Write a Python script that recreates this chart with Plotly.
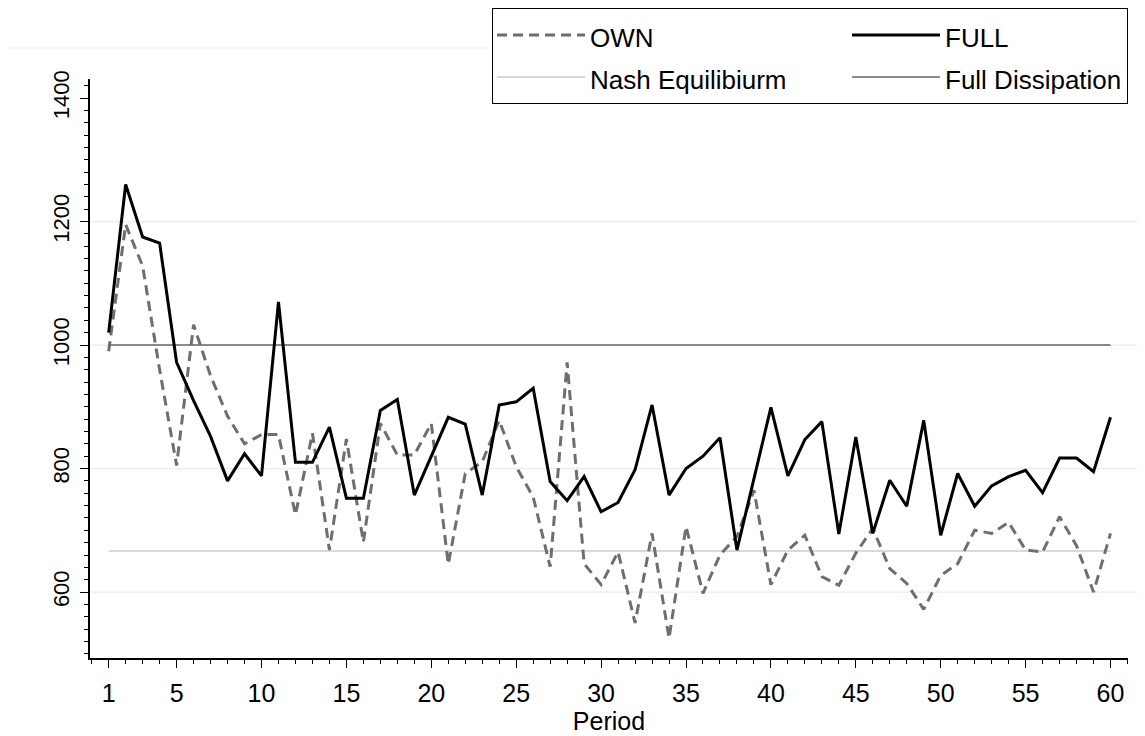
import plotly.graph_objects as go

periods = list(range(1, 61))

own = [990, 1195, 1128, 960, 805, 1033, 950, 885, 840, 855,
       855, 725, 857, 668, 848, 681, 873, 822, 822, 873,
       645, 792, 811, 878, 803, 754, 641, 972, 646, 612,
       665, 550, 695, 525, 706, 598, 660, 690, 765, 612,
       668, 692, 625, 611, 663, 703, 638, 614, 572, 627,
       646, 700, 695, 713, 668, 665, 722, 675, 600, 695]

full = [1020, 1260, 1175, 1165, 972, 910, 852, 780, 824, 788,
        1070, 810, 810, 867, 752, 752, 894, 912, 757, 820,
        883, 872, 757, 903, 908, 930, 779, 748, 787, 730,
        745, 798, 903, 757, 800, 820, 850, 668, 784, 899,
        788, 847, 876, 694, 851, 695, 781, 739, 878, 692,
        792, 739, 772, 787, 797, 761, 817, 817, 795, 883]

nash_value = 2000 / 3
full_dissipation_value = 1000

series_names = ["OWN", "FULL", "Nash Equilibiurm", "Full Dissipation"]
x_tick_vals = [1, 5, 10, 15, 20, 25, 30, 35, 40, 45, 50, 55, 60]
y_tick_vals = [600, 800, 1000, 1200, 1400]
grid_vals = [600, 800, 1000, 1200]

FONT = "Liberation Sans, Arial, sans-serif"
FS = 25
YFS = 22
LEG_TXT = 26
LEG_ROW = 30
ITEMW = 88

# the page adds an 8px body margin, so the figure is sized to fit the window
W, H = 1137, 728
ML, MR, MT, MB = 82, 17, 71, 78
PH = H - MT - MB
PW = W - ML - MR


def leg(name):
    return '<span style="font-size:%dpx">%s</span>' % (LEG_TXT, name)


fig = go.Figure()

# reference lines first (drawn beneath the data lines)
fig.add_trace(go.Scatter(
    x=[periods[0], periods[-1]], y=[nash_value, nash_value], mode="lines",
    name=leg(series_names[2]), legendgroup="col1", legendrank=2,
    line=dict(color="#cccccc", width=1.5),
))
fig.add_trace(go.Scatter(
    x=[periods[0], periods[-1]], y=[full_dissipation_value, full_dissipation_value],
    mode="lines", name=leg(series_names[3]), legendgroup="col2", legendrank=4,
    line=dict(color="#666666", width=1.5),
))
fig.add_trace(go.Scatter(
    x=periods, y=own, mode="lines", name=leg(series_names[0]),
    legendgroup="col1", legendrank=1,
    line=dict(color="#6e6e6e", width=3, dash="10px,6px"),
    legendwidth=350 - (ITEMW + 10),
))
fig.add_trace(go.Scatter(
    x=periods, y=full, mode="lines", name=leg(series_names[1]),
    legendgroup="col2", legendrank=3,
    line=dict(color="black", width=3),
))

shapes = []
for g in grid_vals:
    shapes.append(dict(type="line", xref="paper", yref="y", x0=0, x1=1.012,
                       y0=g, y1=g, line=dict(color="#e6edf1", width=1.2),
                       layer="below"))
shapes.append(dict(type="line", xref="paper", yref="paper", x0=-0.081, x1=0.3825,
                   y0=1 + 31 / PH, y1=1 + 31 / PH,
                   line=dict(color="#e6edf1", width=1.2), layer="below"))

fig.update_layout(
    width=W, height=H,
    margin=dict(l=ML, r=MR, t=MT, b=MB, autoexpand=False),
    paper_bgcolor="white", plot_bgcolor="white",
    font=dict(family=FONT, size=FS, color="black"),
    shapes=shapes,
    showlegend=True,
    legend=dict(
        orientation="h", x=1.0, y=1 + MT / PH, xanchor="right", yanchor="top",
        bordercolor="black", borderwidth=1, bgcolor="white",
        font=dict(family=FONT, size=LEG_ROW, color="black"),
        itemwidth=ITEMW, traceorder="grouped", tracegroupgap=0, entrywidth=0,
    ),
    xaxis=dict(
        range=[-0.1, 61.03], tickmode="array", tickvals=x_tick_vals,
        ticks="outside", ticklen=8, tickwidth=1, tickcolor="black",
        showline=True, linecolor="black", linewidth=1.5,
        showgrid=False, zeroline=False,
        minor=dict(dtick=1, tick0=0, ticks="outside", ticklen=4,
                   tickcolor="black", showgrid=False),
        tickfont=dict(family=FONT, size=FS),
        title=dict(text="Period", font=dict(family=FONT, size=FS), standoff=2),
        ticklabelstandoff=4,
    ),
    yaxis=dict(
        range=[493.2, 1430.8], tickmode="array", tickvals=y_tick_vals,
        ticks="outside", ticklen=8, tickwidth=1, tickcolor="black",
        showline=True, linecolor="black", linewidth=1.5,
        showgrid=False, zeroline=False,
        minor=dict(dtick=20, tick0=0, ticks="outside", ticklen=4,
                   tickcolor="black", showgrid=False),
        tickangle=-90,
        tickfont=dict(family=FONT, size=YFS),
        ticklabelstandoff=2,
    ),
)

fig.write_html("out.html")
